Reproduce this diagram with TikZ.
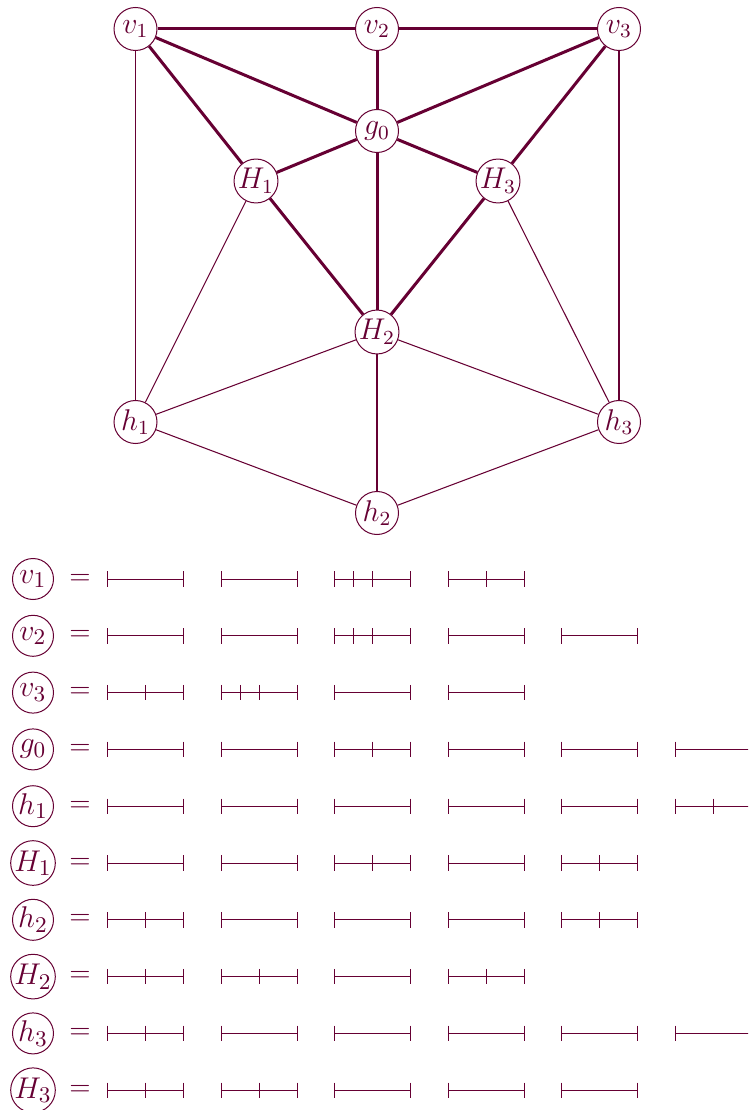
\documentclass[tikz,border=0pt]{standalone}
\definecolor{pc}{RGB}{102,0,51}
\newcommand\drawseg[3]{%
  \pgfmathsetmacro\sx{107.5+113.6*#1}%
  \pgfmathsetmacro\sy{579+56.8*#2}%
  \draw[segline] (\sx,\sy) -- ++(76,0)
    (\sx,\sy) ++(0,-7.7) -- ++(0,15.4)
    (\sx,\sy) ++(76,-7.7) -- ++(0,15.4);
  \ifnum#3>0 \draw[segline] (\sx,\sy) ++(38,-7.7) -- ++(0,15.4);\fi
  \ifnum#3>1 \draw[segline] (\sx,\sy) ++(19,-7.7) -- ++(0,15.4);\fi
}
\begin{document}
\begin{tikzpicture}[x=0.4pt,y=-0.4pt,
  vtx/.style={circle,draw=pc,text=pc,line width=0.4pt,inner sep=0pt,minimum size=17.2pt,font=\fontsize{11.5}{13}\selectfont},
  lvtx/.style={circle,draw=pc,text=pc,line width=0.4pt,inner sep=0pt,minimum size=16.4pt,font=\fontsize{13}{15}\selectfont},
  heavy/.style={draw=pc,line width=1.2pt},
  light/.style={draw=pc,line width=0.42pt},
  eq/.style={text=pc,inner sep=0pt,font=\fontsize{11}{13}\selectfont},
  segline/.style={draw=pc,line width=0.4pt}]
\useasboundingbox (0,0) rectangle (748,1110);
\clip (0,0) rectangle (748,1110);
% graph
\node[vtx] (v1) at (135.5,29) {$v_1$};
\node[vtx] (v2) at (377,29) {$v_2$};
\node[vtx] (v3) at (619,29) {$v_3$};
\node[vtx] (g0) at (377,131) {$g_0$};
\node[vtx] (H1) at (256,181) {$H_1$};
\node[vtx] (H3) at (498,181) {$H_3$};
\node[vtx] (H2) at (377,332) {$H_2$};
\node[vtx] (h1) at (135.5,422) {$h_1$};
\node[vtx] (h3) at (619,422) {$h_3$};
\node[vtx] (h2) at (377,513) {$h_2$};
\draw[light] (v1) -- (h1);
\draw[light] (v3) -- (h3);
\draw[light] (H1) -- (h1);
\draw[light] (H3) -- (h3);
\draw[light] (H2) -- (h1);
\draw[light] (H2) -- (h3);
\draw[light] (H2) -- (h2);
\draw[light] (h1) -- (h2);
\draw[light] (h2) -- (h3);
\draw[heavy] (v1) -- (v2);
\draw[heavy] (v2) -- (v3);
\draw[heavy] (v1) -- (g0);
\draw[heavy] (v2) -- (g0);
\draw[heavy] (v3) -- (g0);
\draw[heavy] (v1) -- (H1);
\draw[heavy] (v3) -- (H3);
\draw[heavy] (H1) -- (g0);
\draw[heavy] (H3) -- (g0);
\draw[heavy] (g0) -- (H2);
\draw[heavy] (H1) -- (H2);
\draw[heavy] (H3) -- (H2);
% rows
\node[lvtx] (r0) at (33,579) {$v_1$};
\node[lvtx] (r1) at (33,635.8) {$v_2$};
\node[lvtx] (r2) at (33,692.6) {$v_3$};
\node[lvtx] (r3) at (33,749.4) {$g_0$};
\node[lvtx] (r4) at (33,806.2) {$h_1$};
\node[lvtx] (r5) at (33,863) {$H_1$};
\node[lvtx] (r6) at (33,919.8) {$h_2$};
\node[lvtx] (r7) at (33,976.6) {$H_2$};
\node[lvtx] (r8) at (33,1033.4) {$h_3$};
\node[lvtx] (r9) at (33,1090.2) {$H_3$};
\foreach \i in {0,...,9} {\node[eq] (e\i) at (80,579+56.8*\i) {$=$};}
\foreach \t [count=\c from 0] in {0,0,2,1} {\drawseg{\c}{0}{\t}}
\foreach \t [count=\c from 0] in {0,0,2,0,0} {\drawseg{\c}{1}{\t}}
\foreach \t [count=\c from 0] in {1,2,0,0} {\drawseg{\c}{2}{\t}}
\foreach \t [count=\c from 0] in {0,0,1,0,0,0} {\drawseg{\c}{3}{\t}}
\foreach \t [count=\c from 0] in {0,0,0,0,0,1} {\drawseg{\c}{4}{\t}}
\foreach \t [count=\c from 0] in {0,0,1,0,1} {\drawseg{\c}{5}{\t}}
\foreach \t [count=\c from 0] in {1,0,0,0,1} {\drawseg{\c}{6}{\t}}
\foreach \t [count=\c from 0] in {1,1,0,1} {\drawseg{\c}{7}{\t}}
\foreach \t [count=\c from 0] in {1,0,0,0,0,0} {\drawseg{\c}{8}{\t}}
\foreach \t [count=\c from 0] in {1,1,0,0,0} {\drawseg{\c}{9}{\t}}
\end{tikzpicture}
\end{document}
